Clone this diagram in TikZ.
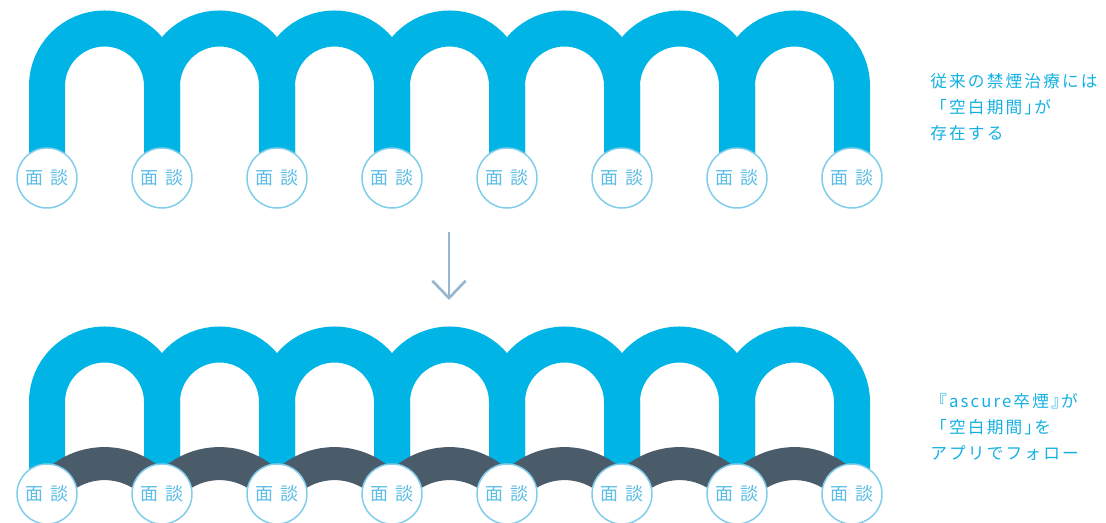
\documentclass[tikz,border=0pt]{standalone}
\usepackage{fontspec}
\setmainfont{Noto Sans CJK JP}
\newfontfamily\notefont{Noto Sans CJK JP}[LetterSpace=13]
\usetikzlibrary{arrows.meta,backgrounds}
\definecolor{archblue}{HTML}{00B5E5}
\definecolor{gapgray}{HTML}{4A5B69}
\definecolor{ringblue}{HTML}{7FCDEB}
\definecolor{talkblue}{HTML}{5CBDE6}
\definecolor{noteblue}{HTML}{14B0E3}
\definecolor{arrowgray}{HTML}{97B6CF}
\newcommand{\tightclose}{\hspace{-5pt}}
\tikzset{
	arch/.style = {draw = archblue, line width = 27pt},
	gap/.style = {draw = gapgray, line width = 24.75pt},
	talk/.style = {circle, draw = ringblue, line width = 1.1pt, fill = white, minimum size = 45pt, inner sep = 0pt, text = talkblue, font = \fontsize{13.5}{14}\selectfont},
	note/.style = {anchor = west, align = left, inner sep = 0pt, text = noteblue, font = \notefont\fontsize{12.5}{19.5}\selectfont}
}
\begin{document}
\begin{tikzpicture}[x = 0.75pt, y = 0.75pt]
		\useasboundingbox (0, 0) rectangle (1106, 523);
		\foreach \i in {1,...,8}{
			\node[talk] (t\i) at ({47 + 115*(\i - 1)}, 345) {面\hspace{5pt}談};
			\node[talk] (b\i) at ({47 + 115*(\i - 1)}, 29) {面\hspace{5pt}談};
		}
		\begin{scope}[on background layer]
			\foreach \i [count = \j from 2] in {1,...,7}{
				\draw[arch] (t\i.center) -- ++(0, 92) arc[start angle = 180, end angle = 0, radius = 57.5] -- (t\j.center);
				\draw[arch] (b\i.center) -- ++(0, 92) arc[start angle = 180, end angle = 0, radius = 57.5] -- (b\j.center);
			}
			\foreach \i [count = \j from 2] in {1,...,7}
				\draw[gap] (b\i.center) to[bend left = 56, looseness = 1.09] (b\j.center);
		\end{scope}
		\coordinate (down1) at (449, 291);
		\coordinate (down2) at (449, 223);
		\draw[-{Straight Barb[length = 13pt, width = 25pt]}, arrowgray, line width = 2pt] (down1) -- (down2);
		\node[note] (oldnote) at (930, 416) {従来の禁煙治療には\\「空白期間」\tightclose が\\存在する};
		\node[note] (appnote) at (930, 96) {『ascure卒煙』\tightclose が\\「空白期間」\tightclose を\\アプリでフォロー};
	\end{tikzpicture}
\end{document}
